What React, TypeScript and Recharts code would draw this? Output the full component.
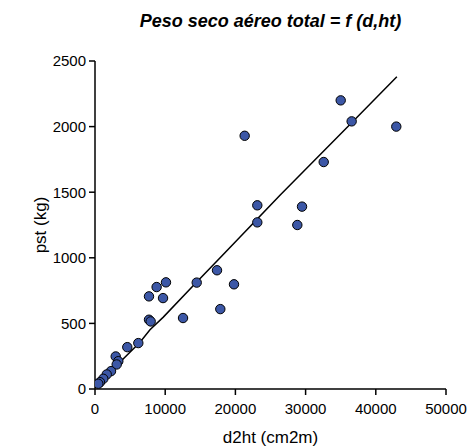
import React from 'react';
import {
    ScatterChart,
    Scatter,
    XAxis,
    YAxis
} from 'recharts';

// d2ht (cm2m) vs pst (kg)
const d2ht = [
    35000, 36560, 42920, 21320, 32580, 23120, 29490, 23120, 28820, 17380,
    14490, 19800, 10110, 8780, 7690, 9690, 17850, 12540, 7690, 7930,
    6170, 4600, 2950, 3320, 3090, 2280, 1670, 1180, 710, 470
];
const pst = [
    2200, 2040, 2000, 1930, 1730, 1400, 1390, 1270, 1250, 905,
    811, 798, 813, 777, 706, 693, 609, 541, 528, 515,
    350, 319, 248, 212, 187, 136, 111, 78, 52, 40
];

// fitted curve as drawn
const fitX = [240, 3320, 6410, 7830, 9730, 14490, 20660, 26350, 36560, 43000];
const fitY = [27, 192, 357, 452, 548, 815, 1158, 1477, 2030, 2380];

const xTicks = [0, 10000, 20000, 30000, 40000, 50000];
const yTicks = [0, 500, 1000, 1500, 2000, 2500];

const points = d2ht.map((x, i) => ({ x, y: pst[i] }));
const fitLine = fitX.map((x, i) => ({ x, y: fitY[i] }));

const font = '"Liberation Sans", Arial, sans-serif';

export default function App() {
    return (
        <div style={{ position: 'absolute', left: 0, top: 0, width: 470, height: 447, background: '#fff', fontFamily: font }}>
            <div
                style={{
                    position: 'absolute',
                    left: 0,
                    width: 541,
                    top: 11,
                    textAlign: 'center',
                    fontSize: 18,
                    fontWeight: 'bold',
                    fontStyle: 'italic',
                    color: '#000',
                    whiteSpace: 'nowrap'
                }}
            >
                Peso seco aéreo total = f (d,ht)
            </div>
            <ScatterChart
                width={470}
                height={447}
                margin={{ top: 61, right: 24, bottom: 18, left: 35 }}
                style={{ fontFamily: font }}
            >
                <XAxis
                    type="number"
                    dataKey="x"
                    domain={[0, 50000]}
                    ticks={xTicks}
                    height={40}
                    stroke="#000"
                    strokeWidth={1.5}
                    tickSize={6}
                    tickMargin={8}
                    tick={{ fill: '#000', fontSize: 15 }}
                    allowDataOverflow
                    label={{ value: 'd2ht (cm2m)', position: 'insideBottom', offset: -14, fill: '#000', fontSize: 17 }}
                />
                <YAxis
                    type="number"
                    dataKey="y"
                    domain={[0, 2500]}
                    ticks={yTicks}
                    width={60}
                    stroke="#000"
                    strokeWidth={1.5}
                    tickSize={6}
                    tickMargin={3}
                    tick={{ fill: '#000', fontSize: 15 }}
                    allowDataOverflow
                    label={{ value: 'pst (kg)', angle: -90, position: 'insideLeft', offset: 5, fill: '#000', fontSize: 17, style: { textAnchor: 'middle' } }}
                />
                <Scatter
                    data={fitLine}
                    line={{ stroke: '#000', strokeWidth: 1.5 }}
                    shape={() => <g />}
                    isAnimationActive={false}
                />
                <Scatter
                    data={points}
                    fill="#3C57A6"
                    stroke="#000"
                    strokeWidth={1}
                    shape={(props: any) => (
                        <circle cx={props.cx} cy={props.cy} r={4.7} fill="#3C57A6" stroke="#000" strokeWidth={1} />
                    )}
                    isAnimationActive={false}
                />
            </ScatterChart>
        </div>
    );
}
